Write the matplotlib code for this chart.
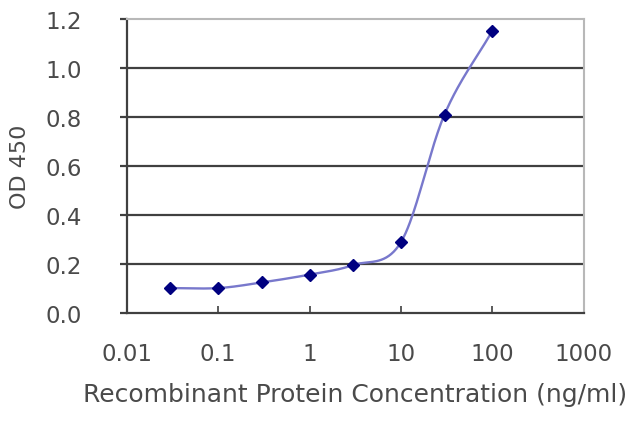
import numpy as np
import matplotlib.pyplot as plt

conc = [0.03, 0.1, 0.3, 1, 3, 10, 30, 100]
od = [0.101, 0.101, 0.124, 0.156, 0.195, 0.288, 0.809, 1.150]

x_ticks = [0.01, 0.1, 1, 10, 100, 1000]
x_tick_labels = ['0.01', '0.1', '1', '10', '100', '1000']
y_ticks = [0.0, 0.2, 0.4, 0.6, 0.8, 1.0, 1.2]

plt.rcParams['font.family'] = ['DejaVu Sans']

fig = plt.figure(figsize=(6.4, 4.27), dpi=100)
ax = fig.add_axes([0.198, 0.265, 0.714, 0.689])

# smooth line like the spreadsheet: catmull-rom in screen-like units
w, h = 457.0, 294.0
u = (np.log10(conc) + 2) / 5 * w
v = np.array(od) / 1.2 * h
pu = np.concatenate([[2 * u[0] - u[1]], u, [2 * u[-1] - u[-2]]])
pv = np.concatenate([[2 * v[0] - v[1]], v, [2 * v[-1] - v[-2]]])
su, sv = [], []
t = np.linspace(0, 1, 40)
for i in range(1, len(pu) - 2):
    for arr, out in ((pu, su), (pv, sv)):
        p0, p1, p2, p3 = arr[i - 1], arr[i], arr[i + 1], arr[i + 2]
        out.extend(0.5 * (2 * p1 + (-p0 + p2) * t
                          + (2 * p0 - 5 * p1 + 4 * p2 - p3) * t ** 2
                          + (-p0 + 3 * p1 - 3 * p2 + p3) * t ** 3))
sx = 10 ** (np.array(su) / w * 5 - 2)
sy = np.array(sv) / h * 1.2

ax.plot(sx, sy, color='#7878cc', lw=1.7, zorder=3)
ax.plot(conc, od, 'D', color='#000080', ms=6.5, zorder=4)

ax.set_xscale('log')
ax.set_xlim(0.01, 1000)
ax.set_ylim(0, 1.2)
ax.set_xticks(x_ticks)
ax.set_xticklabels(x_tick_labels)
ax.minorticks_off()
ax.set_yticks(y_ticks)
ax.set_yticklabels(['%.1f' % y for y in y_ticks])

for y in y_ticks[1:-1]:
    ax.axhline(y, color='#404040', lw=1.6, zorder=1)

for s in ['top', 'right']:
    ax.spines[s].set_color('#b8b8b8')
    ax.spines[s].set_linewidth(1.5)
for s in ['left', 'bottom']:
    ax.spines[s].set_color('#404040')
    ax.spines[s].set_linewidth(1.6)

ax.tick_params(axis='x', direction='in', length=5, width=1.2, color='#404040',
               labelsize=16.5, labelcolor='#4a4a4a', pad=21)
ax.tick_params(axis='y', direction='out', length=5, width=1.6, color='#404040',
               labelsize=16.5, labelcolor='#4a4a4a', pad=27.5)

ax.set_xlabel('Recombinant Protein Concentration (ng/ml)', fontsize=18,
              color='#4a4a4a')
ax.set_ylabel('OD 450', fontsize=16, color='#4a4a4a')
ax.xaxis.set_label_coords(0.5, -0.235)
ax.yaxis.set_label_coords(-0.212, 0.5)

fig.savefig('out.png', dpi=100)
